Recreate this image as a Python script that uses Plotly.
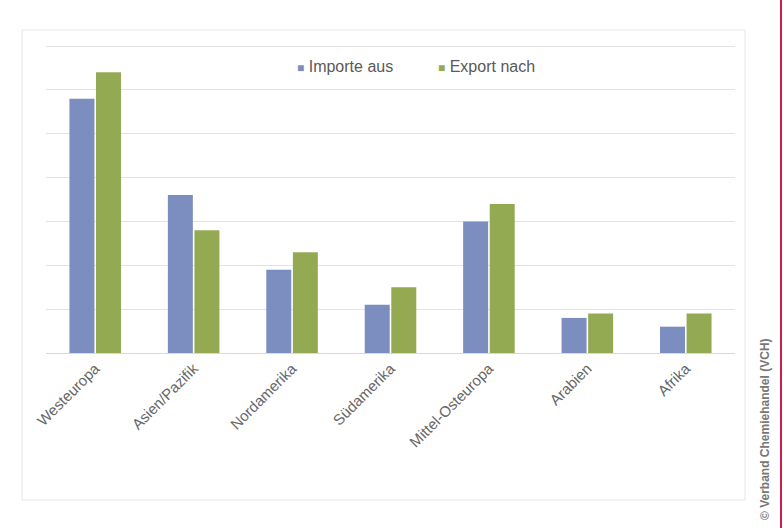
import plotly.graph_objects as go

categories = ["Westeuropa", "Asien/Pazifik", "Nordamerika", "Südamerika",
              "Mittel-Osteuropa", "Arabien", "Afrika"]
importe = [5.8, 3.6, 1.9, 1.1, 3.0, 0.8, 0.6]
exporte = [6.4, 2.8, 2.3, 1.5, 3.4, 0.9, 0.9]
series_names = ["Importe aus", "Export nach"]
colors = ["#7c8dbf", "#93aa53"]

fig = go.Figure()
fig.add_trace(go.Bar(x=categories, y=importe, name=series_names[0],
                     marker=dict(color=colors[0], line=dict(width=0))))
fig.add_trace(go.Bar(x=categories, y=exporte, name=series_names[1],
                     marker=dict(color=colors[1], line=dict(width=0))))

L, R, T, B = 46, 49, 42, 175
PW, PH = 784 - L - R, 528 - T - B
YTOP = PH / (307 / 7)


def px(x):
    return (x - L) / PW


def py(y):
    return (528 - B - y) / PH


legend_ann = [
    dict(text=f"<span style='color:{colors[i]};font-size:12px'>■</span> {series_names[i]}",
         xref="paper", yref="paper", x=px(xx), y=py(66), xanchor="left", yanchor="middle",
         showarrow=False, font=dict(size=16, color="#595959"))
    for i, xx in enumerate([295, 436])
]

fig.update_layout(
    width=784, height=528,
    margin=dict(l=L, r=R, t=T, b=B),
    paper_bgcolor="white", plot_bgcolor="white",
    barmode="group", bargap=0.46, bargroupgap=0.06,
    font=dict(family="Liberation Sans, Arial, sans-serif", color="#595959"),
    showlegend=False,
    xaxis=dict(tickangle=-45, tickfont=dict(size=15, color="#666666"),
               showline=True, linecolor="#d9d9d9", linewidth=1, ticks="",
               showgrid=False),
    yaxis=dict(range=[0, YTOP], tick0=0, dtick=1, showticklabels=False, showgrid=True,
               gridcolor="#e3e3e3", gridwidth=1, zeroline=False, ticks=""),
    shapes=[
        dict(type="rect", xref="paper", yref="paper",
             x0=px(22), x1=px(745), y0=py(500), y1=py(30),
             line=dict(color="#e6e6e6", width=1), fillcolor="rgba(0,0,0,0)", layer="below"),
        dict(type="line", xref="paper", yref="paper",
             x0=px(781), x1=px(781), y0=py(528), y1=py(0),
             line=dict(color="#c8204a", width=2)),
    ],
    annotations=legend_ann + [
        dict(text="<b>© Verband Chemiehandel (VCH)</b>", xref="paper", yref="paper",
             x=px(765), y=py(522), xanchor="center", yanchor="bottom",
             textangle=-90, showarrow=False,
             font=dict(family="Liberation Sans Narrow, Liberation Sans, Arial", size=12,
                       color="#777777")),
    ],
)

fig.write_html("out.html")
